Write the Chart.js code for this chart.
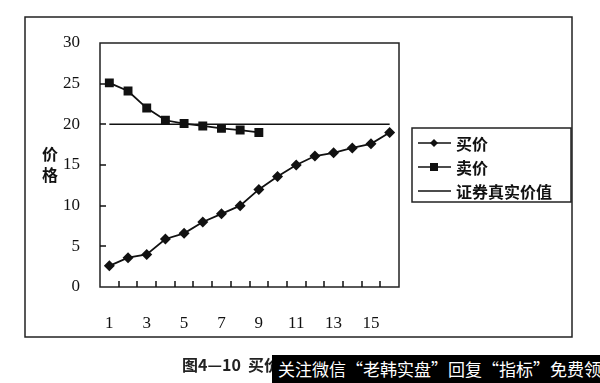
<!DOCTYPE html>
<html>
<head>
<meta charset="utf-8">
<script src="https://cdn.jsdelivr.net/npm/chart.js@4"></script>
<style>
  body { margin: 0; background: #fff; }
  #wrap { position: relative; width: 600px; height: 383px; overflow: hidden; }
  #caption { position: absolute; left: 182px; top: 352px; font: bold 16px "Noto Sans CJK SC", sans-serif; color: #222; white-space: nowrap; }
  #mark { position: absolute; left: 272px; top: 355px; width: 340px; height: 28px; background: #000; color: #fff;
          font: 17px "Noto Sans CJK SC", sans-serif; line-height: 28px; padding-left: 6px; white-space: nowrap; }
</style>
</head>
<body>
<div id="wrap">
  <canvas id="chart" width="600" height="383"></canvas>
  <div id="caption">图4—10&nbsp;&nbsp;买价与卖价</div>
  <div id="mark">关注微信“老韩实盘”回复“指标”免费领</div>
</div>
<script>
// chart data
const periods = ['1','2','3','4','5','6','7','8','9','10','11','12','13','14','15','16'];
const buyPrice = [2.6, 3.6, 4.0, 5.9, 6.6, 8.0, 9.0, 10.0, 12.0, 13.6, 15.0, 16.1, 16.5, 17.1, 17.6, 19.0];
const sellPrice = [25.1, 24.1, 22.0, 20.5, 20.1, 19.8, 19.5, 19.3, 19.0];
const trueValue = [20, 20, 20, 20, 20, 20, 20, 20, 20, 20, 20, 20, 20, 20, 20, 20];
const yTicks = [0, 5, 10, 15, 20, 25, 30];

const cjk = '"Noto Sans CJK SC", sans-serif';

// frame, plot border, inner tick marks, axis title and legend box
const decor = {
    id: 'decor',
    afterDraw(chart) {
        const ctx = chart.ctx;
        const a = chart.chartArea;
        const xs = chart.scales.x, ys = chart.scales.y;
        ctx.save();
        ctx.strokeStyle = '#222';
        ctx.lineWidth = 1.5;
        ctx.strokeRect(25, 17, 547, 320);
        ctx.strokeRect(a.left, a.top, a.right - a.left, a.bottom - a.top);

        // tick marks pointing into the plot
        ctx.lineWidth = 1.5;
        ctx.strokeStyle = '#111';
        ctx.beginPath();
        for (let i = 1; i < periods.length; i++) {
            const x = Math.round((xs.getPixelForValue(i - 1) + xs.getPixelForValue(i)) / 2);
            ctx.moveTo(x, a.bottom);
            ctx.lineTo(x, a.bottom - 6);
        }
        yTicks.slice(1, -1).forEach(v => {
            const y = Math.round(ys.getPixelForValue(v));
            ctx.moveTo(a.left, y);
            ctx.lineTo(a.left + 6, y);
        });
        ctx.stroke();

        // y title, characters stacked
        ctx.fillStyle = '#111';
        ctx.font = 'bold 16px ' + cjk;
        ctx.textAlign = 'center';
        ctx.textBaseline = 'middle';
        ctx.fillText('价', 50, 154);
        ctx.fillText('格', 50, 175);

        // legend
        ctx.lineWidth = 1.5;
        ctx.strokeStyle = '#222';
        ctx.strokeRect(412, 128, 159, 74);
        ctx.textAlign = 'left';
        chart.data.datasets.forEach((ds, i) => {
            const y = 143 + i * 24;
            ctx.strokeStyle = ds.borderColor;
            ctx.lineWidth = 1.5;
            ctx.beginPath();
            ctx.moveTo(418, y);
            ctx.lineTo(451, y);
            ctx.stroke();
            ctx.fillStyle = '#111';
            if (ds.pointStyle === 'rectRot') {
                ctx.beginPath();
                ctx.moveTo(434, y - 4); ctx.lineTo(438, y); ctx.lineTo(434, y + 4); ctx.lineTo(430, y);
                ctx.closePath();
                ctx.fill();
            } else if (ds.pointStyle === 'rect') {
                ctx.fillRect(430, y - 4, 8, 8);
            }
            ctx.fillText(ds.label, 456, y + 1);
        });
        ctx.restore();
    }
};

new Chart(document.getElementById('chart'), {
    type: 'line',
    data: {
        labels: periods,
        datasets: [
            { label: '买价', data: buyPrice, borderColor: '#111', backgroundColor: '#111', borderWidth: 1.8,
              pointStyle: 'rectRot', pointRadius: 5.5, pointBorderWidth: 0, tension: 0 },
            { label: '卖价', data: sellPrice, borderColor: '#111', backgroundColor: '#111', borderWidth: 1.8,
              pointStyle: 'rect', pointRadius: 6.3, pointBorderWidth: 0, tension: 0 },
            { label: '证券真实价值', data: trueValue, borderColor: '#111', borderWidth: 1.5,
              pointRadius: 0, pointStyle: false, tension: 0 }
        ]
    },
    options: {
        responsive: false,
        animation: false,
        layout: { padding: { left: 0, top: 43, right: 201, bottom: 0 } },
        plugins: { legend: { display: false }, tooltip: { enabled: false } },
        scales: {
            x: {
                offset: true,
                grid: { display: false },
                border: { display: false },
                ticks: {
                    autoSkip: false, maxRotation: 0, padding: 18, color: '#111',
                    font: { family: '"Liberation Serif", serif', size: 17 },
                    callback: (v, i) => (i % 2 === 0 ? periods[i] : '')
                },
                afterFit: s => { s.height = 96; }
            },
            y: {
                min: 0, max: 30,
                afterBuildTicks: s => { s.ticks = yTicks.map(v => ({ value: v })); },
                grid: { display: false },
                border: { display: false },
                ticks: { padding: 12, color: '#111', font: { family: '"Liberation Serif", serif', size: 17 } },
                afterFit: s => { s.width = 100; }
            }
        }
    },
    plugins: [decor]
});
</script>
</body>
</html>
